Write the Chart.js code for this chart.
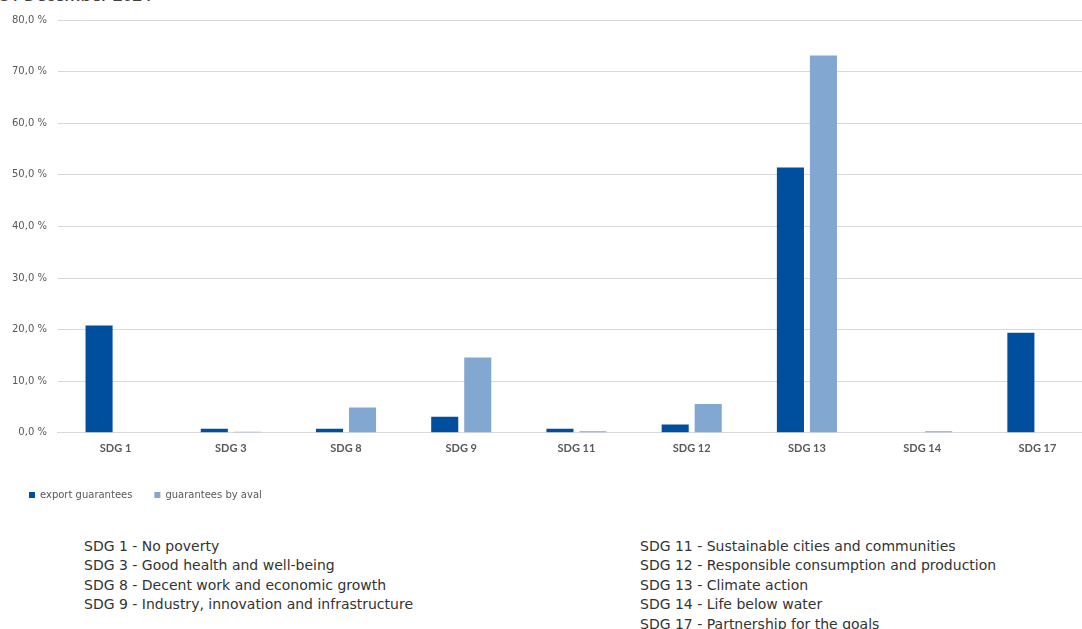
<!DOCTYPE html>
<html>
<head>
<meta charset="utf-8">
<script src="https://cdn.jsdelivr.net/npm/chart.js"></script>
<style>
body { margin: 0; background: #fff; width: 1082px; height: 629px; overflow: hidden; position: relative; }
#titel { position: absolute; left: 0; top: -17px; font-family: "Open Sans", sans-serif; font-size: 17px; font-weight: 600; color: #404040; }
#wrap { position: absolute; left: 0; top: 0; width: 1095px; height: 510px; }
.noten { position: absolute; top: 537px; font-family: "DejaVu Sans", sans-serif; font-size: 14px; line-height: 19.4px; color: #333; white-space: nowrap; }
</style>
</head>
<body>
<div id="titel">31 December 2024</div>
<div id="wrap"><canvas id="grafik"></canvas></div>
<div class="noten" id="notenLinks" style="left:84px"></div>
<div class="noten" id="notenRechts" style="left:640px"></div>
<script>
var kategorien = ['SDG 1', 'SDG 3', 'SDG 8', 'SDG 9', 'SDG 11', 'SDG 12', 'SDG 13', 'SDG 14', 'SDG 17'];
var exportGarantien = [20.8, 0.8, 0.8, 3.1, 0.8, 1.6, 51.4, 0, 19.4];
var avalGarantien = [0, 0.2, 4.9, 14.6, 0.3, 5.6, 73.1, 0.3, 0];

var sdgLinks = [
    'SDG 1 - No poverty',
    'SDG 3 - Good health and well-being',
    'SDG 8 - Decent work and economic growth',
    'SDG 9 - Industry, innovation and infrastructure'
];
var sdgRechts = [
    'SDG 11 - Sustainable cities and communities',
    'SDG 12 - Responsible consumption and production',
    'SDG 13 - Climate action',
    'SDG 14 - Life below water',
    'SDG 17 - Partnership for the goals'
];

document.getElementById('notenLinks').innerHTML = sdgLinks.join('<br>');
document.getElementById('notenRechts').innerHTML = sdgRechts.join('<br>');

var config = {
    type: 'bar',
    data: {
        labels: kategorien,
        datasets: [{
            label: 'export guarantees',
            data: exportGarantien,
            backgroundColor: '#004F9F',
            categoryPercentage: 0.573,
            barPercentage: 0.82
        }, {
            label: 'guarantees by aval',
            data: avalGarantien,
            backgroundColor: '#82A7D1',
            categoryPercentage: 0.573,
            barPercentage: 0.82
        }]
    },
    options: {
        responsive: true,
        maintainAspectRatio: false,
        animation: false,
        layout: {
            padding: { left: 7, right: 0, top: 20, bottom: 0 }
        },
        plugins: {
            legend: {
                position: 'bottom',
                align: 'start',
                labels: {
                    boxWidth: 6,
                    boxHeight: 6,
                    padding: 22,
                    color: '#595959',
                    font: { family: 'DejaVu Sans', size: 10 }
                }
            },
            tooltip: { enabled: false }
        },
        scales: {
            x: {
                grid: { display: false },
                border: { color: '#D9D9D9' },
                ticks: {
                    color: '#595959',
                    font: { family: 'Lato', size: 11, weight: 'bold' },
                    padding: 1
                },
                // etwas mehr Platz zwischen Achse und Legende
                afterFit: function (achse) {
                    achse.height += 12;
                }
            },
            y: {
                min: 0,
                max: 80,
                ticks: {
                    stepSize: 10,
                    color: '#595959',
                    font: { family: 'DejaVu Sans', size: 10 },
                    padding: 11,
                    callback: function (wert) {
                        return wert.toFixed(1).replace('.', ',') + ' %';
                    }
                },
                grid: { color: '#D9D9D9', drawTicks: false },
                border: { display: false },
                afterFit: function (achse) {
                    achse.width -= 6;
                }
            }
        }
    }
};

var ctx = document.getElementById('grafik').getContext('2d');
window.grafik = new Chart(ctx, config);
</script>
</body>
</html>
